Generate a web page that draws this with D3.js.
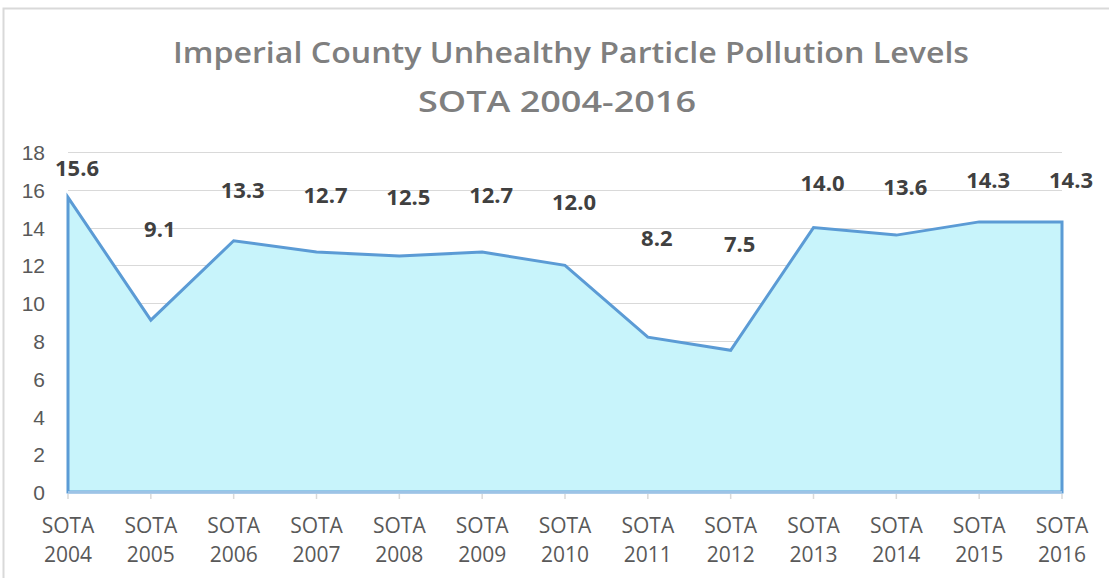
<!DOCTYPE html>
<meta charset="utf-8">
<style>
    body { margin: 0; background: #fff; }
    svg { display: block; font-family: "Open Sans", sans-serif; }
    .grid line { stroke: #d9d9d9; shape-rendering: crispEdges; }
    .axis path { display: none; }
    .axis text { fill: #595959; font-size: 21px; }
</style>
<body>
<div id="chart"></div>
<script src="https://cdnjs.cloudflare.com/ajax/libs/d3/7.8.5/d3.min.js"></script>
<script>
    // chart data
    var years = ["2004", "2005", "2006", "2007", "2008", "2009", "2010",
                 "2011", "2012", "2013", "2014", "2015", "2016"];
    var values = [15.6, 9.1, 13.3, 12.7, 12.5, 12.7, 12.0, 8.2, 7.5, 14.0, 13.6, 14.3, 14.3];
    var yTicks = [0, 2, 4, 6, 8, 10, 12, 14, 16, 18];
    var titleLines = ["Imperial County Unhealthy Particle Pollution Levels", "SOTA 2004-2016"];

    var width = 1109, height = 578;
    var svg = d3.select("#chart").append("svg")
        .attr("width", width)
        .attr("height", height);

    // outer chart frame (only left and top edges are visible in the crop)
    svg.append("path")
        .attr("d", "M3.5," + height + "V8.5H" + width)
        .attr("fill", "none")
        .attr("stroke", "#d9d9d9")
        .attr("stroke-width", 2);

    var xScale = d3.scalePoint()
        .domain(years)
        .range([68, 1062]);

    var yScale = d3.scaleLinear()
        .domain([0, 18])
        .range([492, 152]);

    // gridlines
    svg.append("g")
        .attr("class", "grid")
        .selectAll("line")
        .data(yTicks.filter(d => d > 0))
        .enter().append("line")
        .attr("x1", xScale.range()[0])
        .attr("x2", xScale.range()[1])
        .attr("y1", d => Math.round(yScale(d)) + 0.5)
        .attr("y2", d => Math.round(yScale(d)) + 0.5);

    // y axis labels
    var yAxis = d3.axisLeft(yScale)
        .tickValues(yTicks)
        .tickSize(0)
        .tickPadding(0);
    svg.append("g")
        .attr("class", "axis")
        .attr("transform", "translate(45,0)")
        .call(yAxis)
        .selectAll("text")
        .attr("dy", "0.36em");

    // area with outline
    var area = d3.area()
        .x((d, i) => xScale(years[i]))
        .y0(yScale(0))
        .y1(d => yScale(d));
    svg.append("path")
        .datum(values)
        .attr("d", d => area(d) + "Z")
        .attr("fill", "#c8f4fb")
        .attr("stroke", "#5b9bd5")
        .attr("stroke-width", 3)
        .attr("stroke-linejoin", "miter");

    // x axis baseline + ticks
    svg.append("line")
        .attr("x1", xScale.range()[0])
        .attr("x2", xScale.range()[1])
        .attr("y1", yScale(0))
        .attr("y2", yScale(0))
        .attr("stroke", "#9dc3e6")
        .attr("stroke-width", 2);
    svg.append("g")
        .selectAll("line")
        .data(years)
        .enter().append("line")
        .attr("x1", d => xScale(d))
        .attr("x2", d => xScale(d))
        .attr("y1", yScale(0) + 2)
        .attr("y2", yScale(0) + 7)
        .attr("stroke", "#d9d9d9")
        .attr("stroke-width", 1.5);

    // x axis two-line labels
    var xLabels = svg.append("g")
        .attr("class", "axis")
        .selectAll("text")
        .data(years)
        .enter().append("text")
        .attr("text-anchor", "middle")
        .attr("x", d => xScale(d));
    xLabels.append("tspan")
        .attr("x", d => xScale(d))
        .attr("y", 533)
        .text("SOTA");
    xLabels.append("tspan")
        .attr("x", d => xScale(d))
        .attr("y", 562)
        .text(d => d);

    // data labels - placed half way between the value and the top of the axis, like the original
    svg.append("g")
        .selectAll("text")
        .data(values)
        .enter().append("text")
        .attr("x", (d, i) => xScale(years[i]) + 9)
        .attr("y", d => yScale(9.35 + d / 2))
        .attr("dy", "0.36em")
        .attr("text-anchor", "middle")
        .attr("font-size", 22)
        .attr("font-weight", "bold")
        .attr("fill", "#404040")
        .text(d => d.toFixed(1));

    // title
    var titleX = [571, 557], titleLen = [796, 278];
    svg.append("g")
        .selectAll("text")
        .data(titleLines)
        .enter().append("text")
        .attr("x", (d, i) => titleX[i])
        .attr("y", (d, i) => 63 + i * 49)
        .attr("text-anchor", "middle")
        .attr("font-size", 29)
        .attr("font-weight", 600)
        .attr("fill", "#7f7f7f")
        .attr("textLength", (d, i) => titleLen[i])
        .attr("lengthAdjust", "spacingAndGlyphs")
        .text(d => d);
</script>
</body>
</html>
